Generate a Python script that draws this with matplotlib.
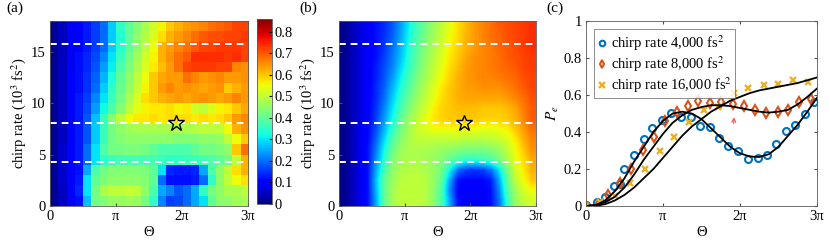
import numpy as np
import matplotlib
matplotlib.use("Agg")
import matplotlib.pyplot as plt

plt.rcParams['font.family'] = ['Liberation Serif', 'DejaVu Serif']
plt.rcParams['mathtext.fontset'] = 'stix'
plt.rcParams['font.size'] = 10.5

# ---- panel (a): measured P_e, rows = chirp rate 0..17 (x10^3 fs^2), cols = Theta 0..3pi
meas = [
    [0.02,0.05,0.09,0.12,0.27,0.42,0.44,0.46,0.46,0.47,0.46,0.42,0.35,0.22,0.16,0.17,0.20,0.25,0.30,0.40,0.45,0.45,0.47,0.48],
    [0.02,0.05,0.10,0.14,0.30,0.42,0.48,0.50,0.50,0.51,0.50,0.45,0.38,0.25,0.22,0.18,0.20,0.25,0.35,0.42,0.45,0.48,0.48,0.50],
    [0.02,0.06,0.10,0.13,0.30,0.40,0.43,0.45,0.45,0.45,0.45,0.44,0.40,0.20,0.12,0.12,0.12,0.13,0.20,0.35,0.45,0.50,0.55,0.58],
    [0.02,0.06,0.10,0.12,0.25,0.38,0.42,0.44,0.44,0.44,0.44,0.43,0.40,0.30,0.14,0.13,0.13,0.14,0.25,0.38,0.45,0.50,0.58,0.62],
    [0.02,0.06,0.10,0.13,0.20,0.30,0.35,0.36,0.37,0.37,0.37,0.37,0.37,0.36,0.35,0.35,0.36,0.36,0.37,0.38,0.40,0.42,0.50,0.62],
    [0.02,0.06,0.10,0.13,0.20,0.30,0.38,0.42,0.42,0.43,0.43,0.42,0.40,0.38,0.38,0.38,0.38,0.40,0.42,0.42,0.43,0.45,0.60,0.68],
    [0.02,0.05,0.10,0.13,0.18,0.28,0.36,0.42,0.44,0.45,0.45,0.45,0.45,0.45,0.45,0.44,0.44,0.44,0.45,0.45,0.46,0.50,0.55,0.60],
    [0.02,0.05,0.10,0.13,0.18,0.28,0.36,0.42,0.45,0.47,0.48,0.48,0.48,0.48,0.48,0.48,0.48,0.49,0.50,0.50,0.50,0.55,0.62,0.65],
    [0.02,0.05,0.10,0.13,0.18,0.27,0.36,0.44,0.50,0.55,0.57,0.57,0.58,0.57,0.58,0.58,0.58,0.57,0.58,0.57,0.58,0.60,0.64,0.66],
    [0.02,0.05,0.10,0.13,0.17,0.24,0.32,0.38,0.44,0.50,0.54,0.56,0.57,0.57,0.58,0.56,0.57,0.52,0.50,0.53,0.56,0.57,0.60,0.63],
    [0.02,0.05,0.10,0.13,0.16,0.22,0.30,0.36,0.42,0.48,0.53,0.58,0.60,0.62,0.63,0.64,0.63,0.64,0.65,0.64,0.63,0.64,0.66,0.64],
    [0.02,0.05,0.10,0.12,0.15,0.20,0.28,0.35,0.41,0.46,0.51,0.56,0.60,0.64,0.66,0.64,0.65,0.64,0.63,0.64,0.65,0.60,0.62,0.64],
    [0.02,0.05,0.10,0.12,0.15,0.19,0.26,0.33,0.40,0.45,0.50,0.55,0.60,0.63,0.64,0.64,0.68,0.66,0.64,0.65,0.66,0.64,0.64,0.65],
    [0.02,0.05,0.09,0.12,0.14,0.18,0.24,0.31,0.38,0.43,0.48,0.53,0.57,0.61,0.64,0.68,0.72,0.73,0.73,0.73,0.72,0.72,0.66,0.65],
    [0.02,0.05,0.09,0.12,0.14,0.17,0.22,0.30,0.36,0.42,0.47,0.52,0.56,0.62,0.65,0.68,0.70,0.74,0.74,0.74,0.74,0.73,0.74,0.72],
    [0.02,0.05,0.09,0.11,0.13,0.16,0.20,0.28,0.34,0.40,0.45,0.50,0.55,0.62,0.64,0.66,0.68,0.70,0.72,0.72,0.73,0.73,0.73,0.72],
    [0.02,0.05,0.09,0.11,0.13,0.16,0.20,0.28,0.34,0.40,0.45,0.49,0.53,0.58,0.62,0.64,0.66,0.68,0.70,0.71,0.71,0.72,0.72,0.73],
    [0.02,0.05,0.09,0.11,0.13,0.16,0.20,0.28,0.35,0.40,0.44,0.48,0.52,0.56,0.60,0.62,0.64,0.65,0.66,0.68,0.69,0.70,0.72,0.72],
]

# ---- panel (b): simulated P_e
sim = [
    [0.01,0.04,0.08,0.12,0.25,0.40,0.47,0.50,0.50,0.50,0.49,0.45,0.38,0.25,0.12,0.10,0.10,0.10,0.12,0.20,0.35,0.46,0.50,0.52],
    [0.01,0.04,0.08,0.12,0.26,0.40,0.47,0.50,0.50,0.50,0.49,0.45,0.38,0.22,0.11,0.10,0.10,0.10,0.12,0.22,0.38,0.47,0.52,0.55],
    [0.01,0.04,0.08,0.12,0.27,0.40,0.46,0.49,0.50,0.50,0.49,0.46,0.40,0.25,0.12,0.11,0.11,0.11,0.13,0.25,0.40,0.50,0.55,0.60],
    [0.01,0.04,0.08,0.12,0.25,0.37,0.45,0.48,0.49,0.49,0.48,0.46,0.42,0.32,0.20,0.16,0.15,0.16,0.20,0.30,0.42,0.52,0.57,0.62],
    [0.01,0.04,0.08,0.12,0.23,0.34,0.43,0.47,0.48,0.48,0.47,0.46,0.44,0.40,0.37,0.35,0.35,0.36,0.38,0.42,0.48,0.54,0.58,0.63],
    [0.01,0.04,0.08,0.12,0.21,0.32,0.41,0.46,0.48,0.48,0.48,0.47,0.46,0.45,0.44,0.43,0.43,0.43,0.44,0.46,0.50,0.55,0.60,0.65],
    [0.01,0.04,0.08,0.11,0.19,0.29,0.38,0.44,0.48,0.50,0.50,0.50,0.50,0.50,0.50,0.49,0.49,0.49,0.50,0.51,0.53,0.57,0.62,0.66],
    [0.01,0.04,0.08,0.11,0.17,0.26,0.35,0.42,0.47,0.51,0.53,0.55,0.55,0.55,0.55,0.55,0.55,0.54,0.54,0.55,0.56,0.60,0.64,0.68],
    [0.01,0.04,0.07,0.10,0.16,0.24,0.32,0.40,0.46,0.50,0.54,0.57,0.59,0.60,0.60,0.60,0.60,0.59,0.59,0.59,0.60,0.62,0.66,0.70],
    [0.01,0.04,0.07,0.10,0.15,0.22,0.30,0.37,0.43,0.48,0.52,0.56,0.59,0.60,0.61,0.61,0.61,0.60,0.60,0.60,0.61,0.63,0.67,0.70],
    [0.01,0.04,0.07,0.10,0.14,0.20,0.28,0.35,0.41,0.46,0.50,0.54,0.58,0.60,0.62,0.63,0.63,0.63,0.63,0.63,0.64,0.66,0.68,0.71],
    [0.01,0.04,0.07,0.10,0.14,0.19,0.26,0.33,0.39,0.44,0.49,0.53,0.57,0.60,0.62,0.64,0.64,0.65,0.65,0.65,0.66,0.68,0.70,0.72],
    [0.01,0.04,0.07,0.10,0.13,0.18,0.24,0.31,0.37,0.43,0.47,0.51,0.55,0.59,0.62,0.64,0.65,0.66,0.66,0.67,0.68,0.69,0.71,0.72],
    [0.01,0.04,0.07,0.10,0.13,0.17,0.22,0.29,0.35,0.41,0.46,0.50,0.54,0.58,0.61,0.64,0.65,0.66,0.67,0.68,0.69,0.70,0.72,0.73],
    [0.01,0.04,0.07,0.10,0.12,0.16,0.21,0.27,0.34,0.40,0.45,0.49,0.53,0.57,0.60,0.63,0.65,0.66,0.67,0.68,0.70,0.71,0.72,0.73],
    [0.01,0.04,0.07,0.10,0.12,0.15,0.20,0.26,0.33,0.39,0.44,0.48,0.52,0.56,0.59,0.62,0.64,0.66,0.67,0.69,0.70,0.71,0.73,0.74],
    [0.01,0.04,0.07,0.09,0.12,0.15,0.19,0.25,0.32,0.38,0.43,0.47,0.51,0.55,0.58,0.62,0.64,0.66,0.68,0.69,0.71,0.72,0.73,0.74],
    [0.01,0.04,0.07,0.09,0.12,0.14,0.18,0.24,0.31,0.37,0.42,0.46,0.50,0.54,0.58,0.61,0.64,0.66,0.68,0.70,0.71,0.72,0.73,0.74],
]

dash_rates = [4.3, 8.1, 15.8]
star_pos = (1.91, 8.1)   # (Theta/pi, chirp rate)

# ---- panel (c): line cuts (Theta in units of pi)
th_4k = [0.0,0.14,0.25,0.36,0.44,0.5,0.62,0.75,0.86,0.99,1.11,1.24,1.37,1.48,1.61,1.73,1.85,1.98,2.11,2.23,2.35,2.47,2.6,2.72,2.85,2.96]
pe_4k = [0.005,0.02,0.05,0.11,0.12,0.2,0.275,0.365,0.42,0.465,0.505,0.48,0.48,0.435,0.425,0.37,0.325,0.295,0.255,0.26,0.275,0.335,0.405,0.44,0.5,0.56]
th_8k = [0.0,0.15,0.29,0.44,0.59,0.74,0.88,1.03,1.18,1.32,1.46,1.61,1.75,1.91,2.05,2.2,2.34,2.49,2.63,2.77,2.92]
pe_8k = [0.0,0.005,0.06,0.125,0.2,0.305,0.375,0.46,0.51,0.54,0.57,0.555,0.565,0.55,0.54,0.52,0.505,0.51,0.52,0.56,0.58]
th_16k = [0.0,0.18,0.38,0.57,0.77,0.96,1.14,1.34,1.53,1.72,1.92,2.11,2.31,2.49,2.69,2.88]
pe_16k = [0.0,0.02,0.055,0.125,0.2,0.3,0.375,0.455,0.52,0.535,0.61,0.64,0.655,0.66,0.68,0.67]

th_fit = [0.0,0.125,0.25,0.375,0.5,0.625,0.75,0.875,1.0,1.125,1.25,1.375,1.5,1.625,1.75,1.875,2.0,2.125,2.25,2.375,2.5,2.625,2.75,2.875,3.0]
fit_4k = [0.0,0.005,0.03,0.08,0.15,0.24,0.32,0.4,0.46,0.5,0.51,0.5,0.47,0.42,0.37,0.32,0.285,0.268,0.265,0.28,0.32,0.38,0.44,0.51,0.585]
fit_8k = [0.0,0.005,0.02,0.05,0.1,0.17,0.25,0.32,0.39,0.45,0.49,0.52,0.535,0.545,0.545,0.54,0.53,0.52,0.51,0.505,0.51,0.52,0.55,0.59,0.635]
fit_16k = [0.0,0.003,0.01,0.03,0.06,0.1,0.15,0.2,0.26,0.32,0.38,0.43,0.47,0.51,0.54,0.57,0.59,0.61,0.625,0.635,0.645,0.655,0.665,0.68,0.695]

labels = ['chirp rate 4,000 fs$^2$', 'chirp rate 8,000 fs$^2$', 'chirp rate 16,000 fs$^2$']
pi_ticks = ['0', 'π', '2π', '3π']

fig = plt.figure(figsize=(8.3, 2.44), dpi=100)
ax_a = fig.add_axes([0.0602, 0.1557, 0.2386, 0.758])
cax = fig.add_axes([0.3096, 0.1640, 0.0181, 0.758])
ax_b = fig.add_axes([0.4084, 0.1557, 0.2373, 0.758])
ax_c = fig.add_axes([0.7060, 0.1557, 0.2783, 0.758])

vmin, vmax = 0.0, 0.86
for ax, data, interp in [(ax_a, meas, 'nearest'), (ax_b, sim, 'bilinear')]:
    im = ax.imshow(np.array(data), origin='lower', aspect='auto', cmap='jet',
                   vmin=vmin, vmax=vmax, extent=[0, 3, 0, 18], interpolation=interp)
    for r in dash_rates:
        ax.axhline(r, color='white', ls=(0, (3.5, 2.5)), lw=1.4)
    ax.plot(*star_pos, marker='*', ms=12, mfc='none', mec='black', mew=1.0)
    ax.set_xticks([0, 1, 2, 3])
    ax.set_xticklabels(pi_ticks)
    ax.set_yticks([0, 5, 10, 15])
    ax.set_xlim(0, 3)
    ax.set_ylim(0, 18)
    ax.set_xlabel('Θ', labelpad=2)
    ax.set_ylabel('chirp rate (10$^3$ fs$^2$)', labelpad=2)
    ax.tick_params(direction='in', length=2.5, color='0.3', pad=3)
    for s in ax.spines.values():
        s.set_color('0.35')
        s.set_linewidth(0.6)

cb = fig.colorbar(im, cax=cax)
cb.set_ticks([0, 0.1, 0.2, 0.3, 0.4, 0.5, 0.6, 0.7, 0.8])
cb.set_ticklabels(['0', '0.1', '0.2', '0.3', '0.4', '0.5', '0.6', '0.7', '0.8'])
cax.tick_params(direction='in', length=2, pad=2)
cb.outline.set_linewidth(0.6)
cb.outline.set_edgecolor('0.35')

# panel (c)
blue, red, orange = '#0072BD', '#D95319', '#EDB120'
ax_c.plot(th_4k, pe_4k, 'o', ms=5, mfc='none', mec=blue, mew=1.5, label=labels[0])
ax_c.plot(th_8k, pe_8k, 'd', ms=5, mfc='none', mec=red, mew=1.5, label=labels[1])
ax_c.plot(th_16k, pe_16k, 'x', ms=5, color=orange, mew=1.7, label=labels[2])
ax_c.plot(th_fit, fit_4k, color='black', lw=1.3)
ax_c.plot(th_fit, fit_8k, color='black', lw=1.3)
ax_c.plot(th_fit, fit_16k, color='black', lw=1.3)
ax_c.annotate('', xy=(1.92, 0.495), xytext=(1.92, 0.43),
              arrowprops=dict(arrowstyle='->', color='#ff4d4d', lw=0.8, mutation_scale=7))
ax_c.set_xlim(0, 3)
ax_c.set_ylim(0, 1)
ax_c.set_xticks([0, 1, 2, 3])
ax_c.set_xticklabels(pi_ticks)
ax_c.set_yticks([0, 0.2, 0.4, 0.6, 0.8, 1])
ax_c.set_yticklabels(['0', '0.2', '0.4', '0.6', '0.8', '1'])
ax_c.set_xlabel('Θ', labelpad=2)
ax_c.set_ylabel('$P_e$', labelpad=2, fontsize=11)
ax_c.tick_params(direction='in', length=2.5, color='0.3', pad=3, top=True, right=True)
for s in ax_c.spines.values():
    s.set_color('0.35')
    s.set_linewidth(0.6)
leg = ax_c.legend(loc='upper left', bbox_to_anchor=(0.035, 0.955), fontsize=10.5, frameon=True,
                  fancybox=False, edgecolor='0.35', handlelength=0.6, handletextpad=0.3,
                  borderpad=0.25, labelspacing=0.1, borderaxespad=0, markerscale=0.8)
leg.get_frame().set_linewidth(0.6)

fig.text(0.008, 0.95, '(a)', fontsize=11)
fig.text(0.361, 0.95, '(b)', fontsize=11)
fig.text(0.658, 0.95, '(c)', fontsize=11)

fig.savefig('out.png', dpi=100)
